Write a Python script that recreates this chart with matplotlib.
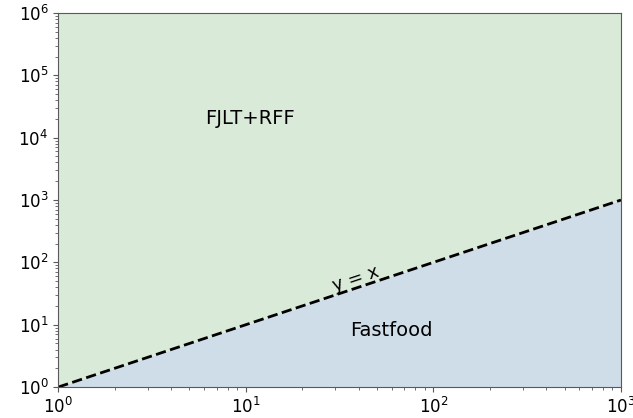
import numpy as np
import matplotlib.pyplot as plt

# boundary between the two regimes: y = x on log-log axes
x_range = [1, 1000]
y_range = [1, 1e6]
boundary_x = np.array([1, 1000])
boundary_y = boundary_x.copy()

region_labels = ["FJLT+RFF", "Fastfood"]
label_pos = [(10.5, 2e4), (60, 8)]

fig = plt.figure(figsize=(6.33, 4.18), dpi=100)
ax = fig.add_axes([0.092, 0.074, 0.889, 0.895])

ax.fill_between(boundary_x, boundary_y, y_range[1], color="#d9ead8", lw=0)
ax.fill_between(boundary_x, y_range[0], boundary_y, color="#cfdde9", lw=0)
ax.plot(boundary_x, boundary_y, "k--", lw=2)

ax.set_xscale("log")
ax.set_yscale("log")
ax.set_xlim(x_range)
ax.set_ylim(y_range)

for s in ax.spines.values():
    s.set_color("0.35")
ax.tick_params(labelsize=12, colors="0.35", labelcolor="black")
ax.tick_params(which="minor", colors="0.35")

for lbl, (px, py) in zip(region_labels, label_pos):
    ax.text(px, py, lbl, fontsize=14, ha="center", va="center")

ax.text(40, 39, "y = x", fontsize=13, ha="center", va="bottom",
        rotation=18.4, rotation_mode="anchor")

fig.savefig("out.png")
